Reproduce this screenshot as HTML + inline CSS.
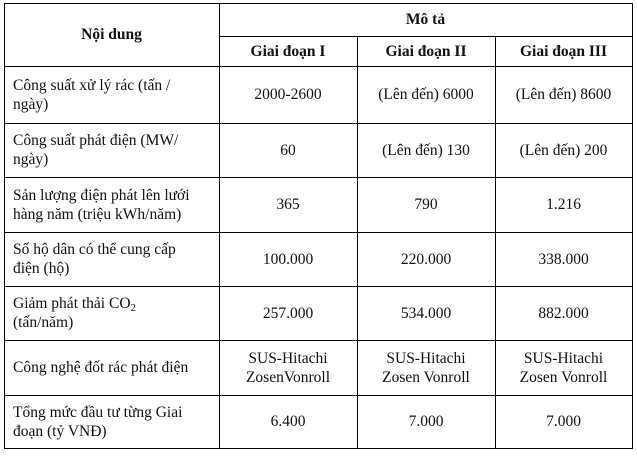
<!DOCTYPE html>
<html><head><meta charset="utf-8"><style>
body{margin:0;background:#fff;width:637px;height:458px;position:relative;overflow:hidden;font-family:"Liberation Serif","Times New Roman",Times,serif;font-size:15.5px;color:#111}
.h{position:absolute;height:1px;background:#000}
.v{position:absolute;width:1px;background:#000}
.c{position:absolute;display:flex;align-items:center;justify-content:center;text-align:center;line-height:19px;font-family:"Liberation Serif","Times New Roman",Times,serif}
.l{justify-content:flex-start;text-align:left;padding-left:9px;box-sizing:border-box}
b{font-weight:bold}
sub{font-size:11px;vertical-align:-3px;line-height:0}
</style></head><body>
<div class="h" style="left:4px;width:629px;top:3px"></div>
<div class="h" style="left:219px;width:414px;top:36px"></div>
<div class="h" style="left:4px;width:629px;top:66px"></div>
<div class="h" style="left:4px;width:629px;top:123px"></div>
<div class="h" style="left:4px;width:629px;top:177px"></div>
<div class="h" style="left:4px;width:629px;top:232px"></div>
<div class="h" style="left:4px;width:629px;top:286px"></div>
<div class="h" style="left:4px;width:629px;top:340px"></div>
<div class="h" style="left:4px;width:629px;top:395px"></div>
<div class="h" style="left:4px;width:629px;top:448px"></div>
<div class="v" style="left:4px;top:3px;height:446px"></div>
<div class="v" style="left:219px;top:3px;height:446px"></div>
<div class="v" style="left:357px;top:36px;height:413px"></div>
<div class="v" style="left:495px;top:36px;height:413px"></div>
<div class="v" style="left:632px;top:3px;height:446px"></div>

<div class="c" style="left:4px;width:215px;top:3px;height:63px"><div><b>Nội dung</b></div></div>
<div class="c" style="left:219px;width:413px;top:3px;height:33px"><div><b>Mô tả</b></div></div>
<div class="c" style="left:219px;width:138px;top:36px;height:30px"><div><b>Giai đoạn I</b></div></div>
<div class="c" style="left:357px;width:138px;top:36px;height:30px"><div><b>Giai đoạn II</b></div></div>
<div class="c" style="left:495px;width:137px;top:36px;height:30px"><div><b>Giai đoạn III</b></div></div>

<div class="c l" style="left:4px;width:215px;top:66px;height:57px"><div>Công suất xử lý rác (tấn /<br>ngày)</div></div>
<div class="c" style="left:219px;width:138px;top:66px;height:57px"><div>2000-2600</div></div>
<div class="c" style="left:357px;width:138px;top:66px;height:57px"><div>(Lên đến) 6000</div></div>
<div class="c" style="left:495px;width:137px;top:66px;height:57px"><div>(Lên đến) 8600</div></div>

<div class="c l" style="left:4px;width:215px;top:123px;height:54px"><div>Công suất phát điện (MW/<br>ngày)</div></div>
<div class="c" style="left:219px;width:138px;top:123px;height:54px"><div>60</div></div>
<div class="c" style="left:357px;width:138px;top:123px;height:54px"><div>(Lên đến) 130</div></div>
<div class="c" style="left:495px;width:137px;top:123px;height:54px"><div>(Lên đến) 200</div></div>

<div class="c l" style="left:4px;width:215px;top:177px;height:55px"><div>Sản lượng điện phát lên lưới<br>hàng năm (triệu kWh/năm)</div></div>
<div class="c" style="left:219px;width:138px;top:177px;height:55px"><div>365</div></div>
<div class="c" style="left:357px;width:138px;top:177px;height:55px"><div>790</div></div>
<div class="c" style="left:495px;width:137px;top:177px;height:55px"><div>1.216</div></div>

<div class="c l" style="left:4px;width:215px;top:232px;height:54px"><div>Số hộ dân có thể cung cấp<br>điện (hộ)</div></div>
<div class="c" style="left:219px;width:138px;top:232px;height:54px"><div>100.000</div></div>
<div class="c" style="left:357px;width:138px;top:232px;height:54px"><div>220.000</div></div>
<div class="c" style="left:495px;width:137px;top:232px;height:54px"><div>338.000</div></div>

<div class="c l" style="left:4px;width:215px;top:286px;height:54px"><div>Giảm phát thải CO<sub>2</sub><br>(tấn/năm)</div></div>
<div class="c" style="left:219px;width:138px;top:286px;height:54px"><div>257.000</div></div>
<div class="c" style="left:357px;width:138px;top:286px;height:54px"><div>534.000</div></div>
<div class="c" style="left:495px;width:137px;top:286px;height:54px"><div>882.000</div></div>

<div class="c l" style="left:4px;width:215px;top:340px;height:55px"><div>Công nghệ đốt rác phát điện</div></div>
<div class="c" style="left:219px;width:138px;top:340px;height:55px"><div>SUS-Hitachi<br>ZosenVonroll</div></div>
<div class="c" style="left:357px;width:138px;top:340px;height:55px"><div>SUS-Hitachi<br>Zosen Vonroll</div></div>
<div class="c" style="left:495px;width:137px;top:340px;height:55px"><div>SUS-Hitachi<br>Zosen Vonroll</div></div>

<div class="c l" style="left:4px;width:215px;top:395px;height:53px"><div>Tổng mức đầu tư từng Giai<br>đoạn (tỷ VNĐ)</div></div>
<div class="c" style="left:219px;width:138px;top:395px;height:53px"><div>6.400</div></div>
<div class="c" style="left:357px;width:138px;top:395px;height:53px"><div>7.000</div></div>
<div class="c" style="left:495px;width:137px;top:395px;height:53px"><div>7.000</div></div>
</body></html>
